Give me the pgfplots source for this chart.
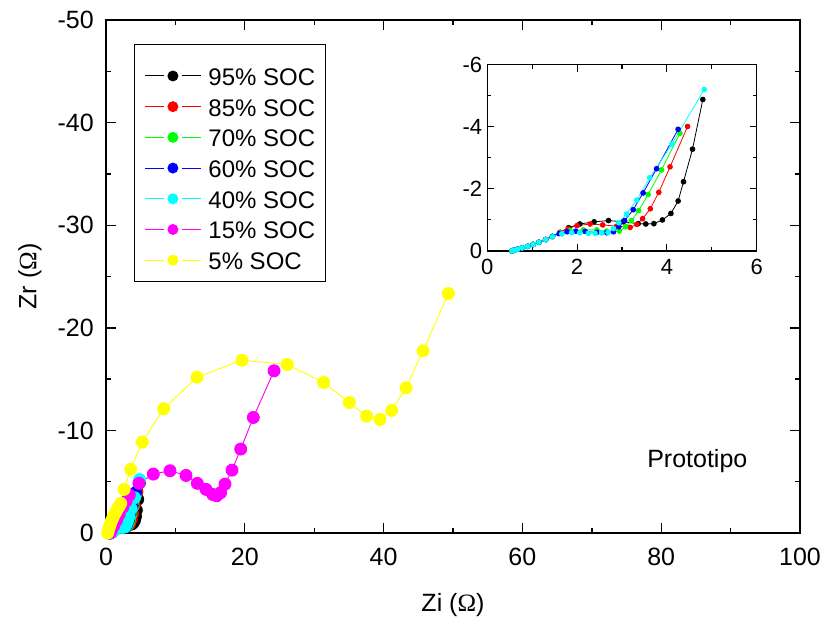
\documentclass[border=0pt]{standalone}
\usepackage{fontspec}
\setmainfont{Liberation Sans}
\newfontfamily\symf{Liberation Serif}
\usepackage{pgfplots}
\usepackage{pgfplotstable}
\pgfplotsset{compat=1.18}
\definecolor{cgreen}{RGB}{0,255,0}
\definecolor{cyel}{RGB}{255,255,0}
\definecolor{cmag}{RGB}{255,0,255}
\definecolor{ccyan}{RGB}{0,255,255}
\definecolor{cblue}{RGB}{0,0,255}
\definecolor{cred}{RGB}{255,0,0}

\pgfplotstableread{
x y
0.55 0
0.60 -0.03
0.68 -0.06
0.78 -0.10
0.90 -0.15
1.02 -0.21
1.15 -0.28
1.30 -0.37
1.45 -0.47
1.62 -0.60
1.81 -0.75
2.06 -0.87
2.38 -0.94
2.70 -0.98
3.03 -0.94
3.36 -0.88
3.53 -0.87
3.71 -0.88
3.90 -1.00
4.09 -1.21
4.25 -1.61
4.37 -2.23
4.57 -3.28
4.80 -4.88
}\soca
\pgfplotstableread{
x y
0.55 0
0.60 -0.03
0.68 -0.06
0.78 -0.10
0.90 -0.15
1.02 -0.21
1.15 -0.28
1.30 -0.37
1.45 -0.46
1.62 -0.60
1.80 -0.72
2.00 -0.82
2.29 -0.87
2.57 -0.84
2.88 -0.80
3.18 -0.76
3.33 -0.86
3.46 -1.04
3.63 -1.36
3.82 -1.89
4.07 -2.71
4.46 -4.01
}\socb
\pgfplotstableread{
x y
0.55 0
0.60 -0.03
0.68 -0.06
0.78 -0.10
0.90 -0.15
1.02 -0.21
1.15 -0.28
1.30 -0.37
1.45 -0.46
1.62 -0.58
1.84 -0.66
2.14 -0.68
2.44 -0.68
2.66 -0.64
2.94 -0.64
3.08 -0.78
3.21 -0.98
3.37 -1.30
3.58 -1.82
3.88 -2.61
4.29 -3.79
}\socc
\pgfplotstableread{
x y
0.55 0
0.60 -0.03
0.68 -0.06
0.78 -0.10
0.90 -0.15
1.02 -0.21
1.15 -0.28
1.30 -0.37
1.45 -0.47
1.60 -0.56
1.78 -0.62
1.97 -0.64
2.18 -0.63
2.44 -0.60
2.66 -0.59
2.81 -0.62
2.93 -0.78
3.06 -0.98
3.25 -1.33
3.47 -1.87
3.77 -2.65
4.25 -3.92
}\socd
\pgfplotstableread{
x y
0.55 0
0.60 -0.03
0.68 -0.06
0.78 -0.10
0.90 -0.15
1.02 -0.21
1.15 -0.28
1.30 -0.37
1.45 -0.46
1.66 -0.55
1.88 -0.59
2.06 -0.59
2.25 -0.57
2.40 -0.57
2.55 -0.58
2.69 -0.60
2.81 -0.72
2.93 -0.91
3.10 -1.19
3.33 -1.64
3.62 -2.36
4.11 -3.44
4.83 -5.20
}\soce
\pgfplotstableread{
x y
0.6 0
0.8 -0.3
1.1 -0.7
1.5 -1.2
1.9 -1.8
2.4 -2.5
2.9 -3.1
3.36 -3.70
4.75 -4.84
6.82 -5.74
9.22 -6.07
11.53 -5.61
13.16 -4.84
14.41 -4.25
15.37 -3.76
15.95 -3.63
16.52 -3.93
17.15 -4.77
18.16 -6.13
19.41 -8.18
21.23 -11.26
24.21 -15.81
}\socf
\pgfplotstableread{
x y
0.25 0
0.35 -0.3
0.50 -0.6
0.65 -0.9
0.80 -1.2
1.00 -1.5
1.20 -1.8
1.44 -2.07
1.70 -2.40
1.95 -2.65
2.12 -2.89
2.59 -4.25
3.56 -6.20
5.23 -8.86
8.31 -12.11
13.11 -15.19
19.60 -16.84
26.13 -16.42
31.37 -14.67
35.06 -12.72
37.56 -11.39
39.48 -11.07
41.16 -11.95
43.23 -14.15
45.68 -17.75
49.33 -23.34
}\socg

\begin{document}
\begin{tikzpicture}
\path[use as bounding box] (-106pt,-88pt) rectangle (722pt,533pt);
\begin{axis}[
  at={(0pt,0pt)}, anchor=south west,
  scale only axis, width=694pt, height=513pt,
  xmin=0, xmax=100, ymin=-50, ymax=0, y dir=reverse,
  xtick={0,20,...,100}, ytick={-50,-40,...,0},
  minor x tick num=1, minor y tick num=1,
  tick align=inside, major tick length=10pt, minor tick length=5pt,
  every tick/.style={line width=1.4pt, black},
  axis line style={line width=1.6pt},
  /pgf/number format/assume math mode=true,
  tick label style={font=\fontsize{25}{30}\selectfont},
  xticklabel style={inner sep=0pt, anchor=north, yshift=-15pt},
  yticklabel style={inner sep=0pt, anchor=east, xshift=-12pt},
  xlabel={Zi ({\symf Ω})}, ylabel={Zr ({\symf Ω})},
  label style={font=\fontsize{25}{30}\selectfont},
  xlabel style={at={(axis description cs:0.5,0)}, anchor=center, yshift=-72pt},
  ylabel style={at={(axis description cs:0,0.5)}, anchor=center, rotate=0, yshift=76pt},
  legend style={at={(0.0403,0.9532)}, anchor=north west, draw=black, line width=0.9pt,
    font=\fontsize{24}{24}\selectfont, inner xsep=10pt, inner ysep=12pt,
    nodes={inner sep=0pt, text height=29pt, text depth=0pt},
    /tikz/row sep=1.7pt, /tikz/column sep=7pt},
  legend cell align=left,
  legend image code/.code={
    \draw[line width=1pt] (0pt,-5pt) -- (19pt,-5pt);
    \draw[line width=1pt] (37pt,-5pt) -- (56pt,-5pt);
    \draw[mark size=5pt] plot coordinates {(28pt,-5pt)};},
  every axis plot/.append style={line width=0.9pt, mark=*, mark size=6pt},
]
\addplot[black, mark options={fill=black}] table {\soca};
\addlegendentry{95\% SOC}
\addplot[cred, mark options={fill=cred}] table {\socb};
\addlegendentry{85\% SOC}
\addplot[cgreen, mark options={fill=cgreen}] table {\socc};
\addlegendentry{70\% SOC}
\addplot[cblue, mark options={fill=cblue}] table {\socd};
\addlegendentry{60\% SOC}
\addplot[ccyan, mark options={fill=ccyan}] table {\soce};
\addlegendentry{40\% SOC}
\addplot[cmag, mark options={fill=cmag}] table {\socf};
\addlegendentry{15\% SOC}
\addplot[cyel, mark options={fill=cyel}] table {\socg};
\addlegendentry{5\% SOC}
\node[font=\fontsize{25}{30}\selectfont] at (axis cs:85.2,-7) {Prototipo};
\end{axis}

\begin{axis}[
  at={(381.3pt,282pt)}, anchor=south west,
  scale only axis, width=269.4pt, height=186.3pt,
  xmin=0, xmax=6, ymin=-6, ymax=0, y dir=reverse,
  xtick={0,2,4,6}, ytick={-6,-4,-2,0},
  minor x tick num=1, minor y tick num=1,
  tick align=inside, major tick length=7pt, minor tick length=4pt,
  every tick/.style={line width=1.1pt, black},
  axis line style={line width=1.2pt},
  axis background/.style={fill=white},
  /pgf/number format/assume math mode=true,
  tick label style={font=\fontsize{22}{26}\selectfont},
  xticklabel style={inner sep=0pt, anchor=north, yshift=-8pt},
  yticklabel style={inner sep=0pt, anchor=east, xshift=-5pt},
  every axis plot/.append style={line width=0.8pt, mark=*, mark size=2.4pt},
]
\addplot[black, mark options={fill=black}] table {\soca};
\addplot[cred, mark options={fill=cred}] table {\socb};
\addplot[cgreen, mark options={fill=cgreen}] table {\socc};
\addplot[cblue, mark options={fill=cblue}] table {\socd};
\addplot[ccyan, mark options={fill=ccyan}] table {\soce};
\end{axis}
\end{tikzpicture}
\end{document}
